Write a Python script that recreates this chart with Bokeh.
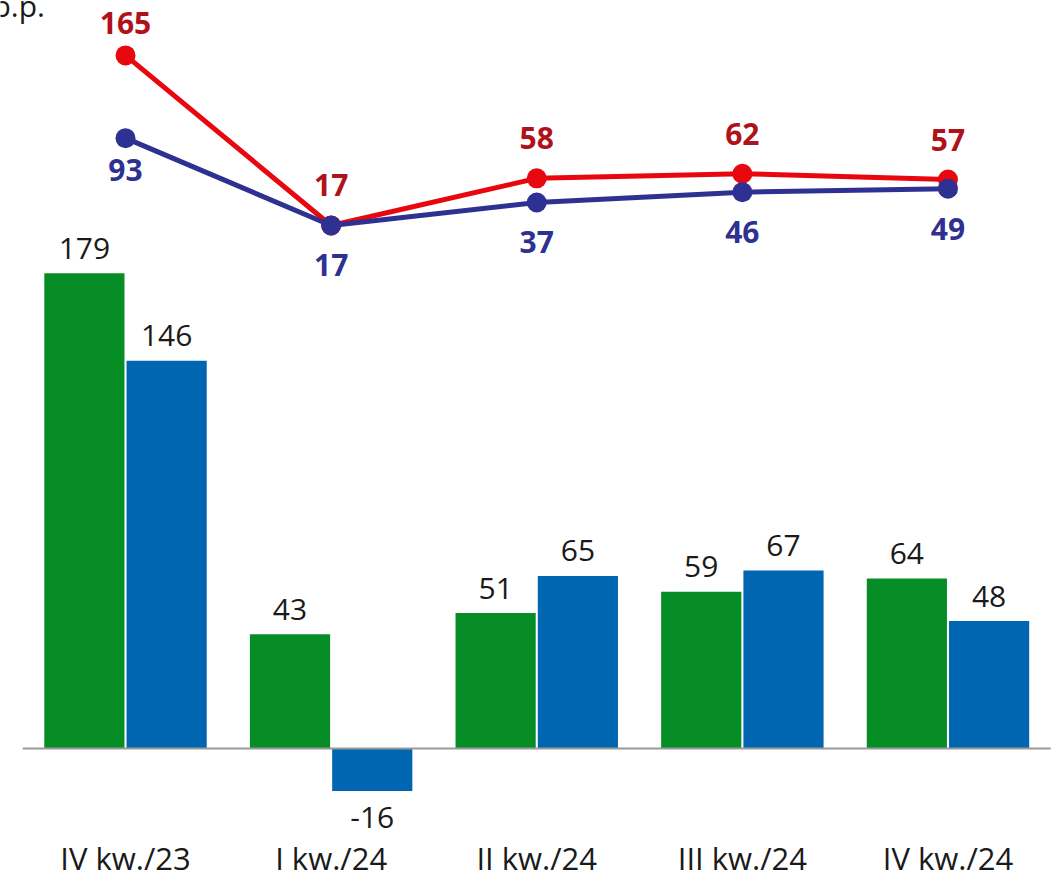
from bokeh.plotting import figure
from bokeh.models import Range1d, ColumnDataSource
from bokeh.core.properties import value
from bokeh.transform import dodge
from bokeh.embed import file_html
from bokeh.resources import INLINE

# ---- data ----
categories = ["IV kw./23", "I kw./24", "II kw./24", "III kw./24", "IV kw./24"]
bars_green = [179, 43, 51, 59, 64]
bars_blue = [146, -16, 65, 67, 48]
line_red = [165, 17, 58, 62, 57]
line_navy = [93, 17, 37, 46, 49]
unit_label = "p.p."

GREEN = "#068D26"
BLUE = "#0066B2"
RED = "#E8070F"
RED_TXT = "#B0121B"
NAVY = "#2E3191"
FONT = value("Open Sans")

W, H = 1054, 881
xs = list(range(len(categories)))

p = figure(width=W, height=H, output_backend="svg", toolbar_location=None,
           x_range=Range1d(-0.608, 4.518), y_range=Range1d(-50.1, 281.7),
           min_border=0, outline_line_color=None, background_fill_color="white",
           border_fill_color="white")
p.extra_y_ranges = {"line": Range1d(-554.0, 212.8)}
p.xaxis.visible = False
p.yaxis.visible = False
p.grid.visible = False

src = ColumnDataSource(dict(
    x=xs, cat=categories, g=bars_green, b=bars_blue,
    gl=[str(v) for v in bars_green], bl=[str(v) for v in bars_blue],
    goff=[-25 if v >= 0 else 27 for v in bars_green],
    boff=[-25 if v >= 0 else 27 for v in bars_blue],
    r=line_red, n=line_navy,
    rl=[str(v) for v in line_red], nl=[str(v) for v in line_navy],
    roff=[-32] + [-40] * (len(line_red) - 1),
    noff=[32] + [40] * (len(line_navy) - 1),
))

# bars
p.vbar(x=dodge("x", -0.2, range=p.x_range), top="g", bottom=0, width=0.39,
       source=src, fill_color=GREEN, line_color=None)
p.vbar(x=dodge("x", 0.2, range=p.x_range), top="b", bottom=0, width=0.39,
       source=src, fill_color=BLUE, line_color=None)

# zero line
n = len(categories)
p.segment(x0=[-0.5], y0=[0], x1=[n - 0.5], y1=[0], line_color="#9A9A9A", line_width=2)

# bar labels
p.text(x=dodge("x", -0.2, range=p.x_range), y="g", text="gl", y_offset="goff", source=src,
       text_align="center", text_baseline="middle", text_font=FONT,
       text_font_size="30px", text_color="#1A1A1A")
p.text(x=dodge("x", 0.2, range=p.x_range), y="b", text="bl", y_offset="boff", source=src,
       text_align="center", text_baseline="middle", text_font=FONT,
       text_font_size="30px", text_color="#1A1A1A")

# category labels
p.text(x="x", y=0, text="cat", y_offset=110, source=src,
       text_align="center", text_baseline="middle", text_font=FONT,
       text_font_size="31px", text_color="#1A1A1A")

# lines
p.line(x="x", y="r", source=src, y_range_name="line", line_color=RED, line_width=5)
p.line(x="x", y="n", source=src, y_range_name="line", line_color=NAVY, line_width=5)
p.scatter(x="x", y="r", source=src, y_range_name="line", size=20,
          fill_color=RED, line_color=None)
p.scatter(x="x", y="n", source=src, y_range_name="line", size=20,
          fill_color=NAVY, line_color=None)

p.text(x="x", y="r", text="rl", y_offset="roff", source=src, y_range_name="line",
       text_align="center", text_baseline="middle", text_font=FONT,
       text_font_size="30px", text_font_style="bold", text_color=RED_TXT)
p.text(x="x", y="n", text="nl", y_offset="noff", source=src, y_range_name="line",
       text_align="center", text_baseline="middle", text_font=FONT,
       text_font_size="30px", text_font_style="bold", text_color=NAVY)

# unit label (cut off at the top as in the original)
p.text(x=[p.x_range.start], y=[p.y_range.end], text=[unit_label], x_offset=-8, y_offset=5,
       text_align="left", text_baseline="alphabetic", text_font=FONT,
       text_font_size="30px", text_color="#1A1A1A")

open("out.html", "w").write(file_html(p, INLINE))
